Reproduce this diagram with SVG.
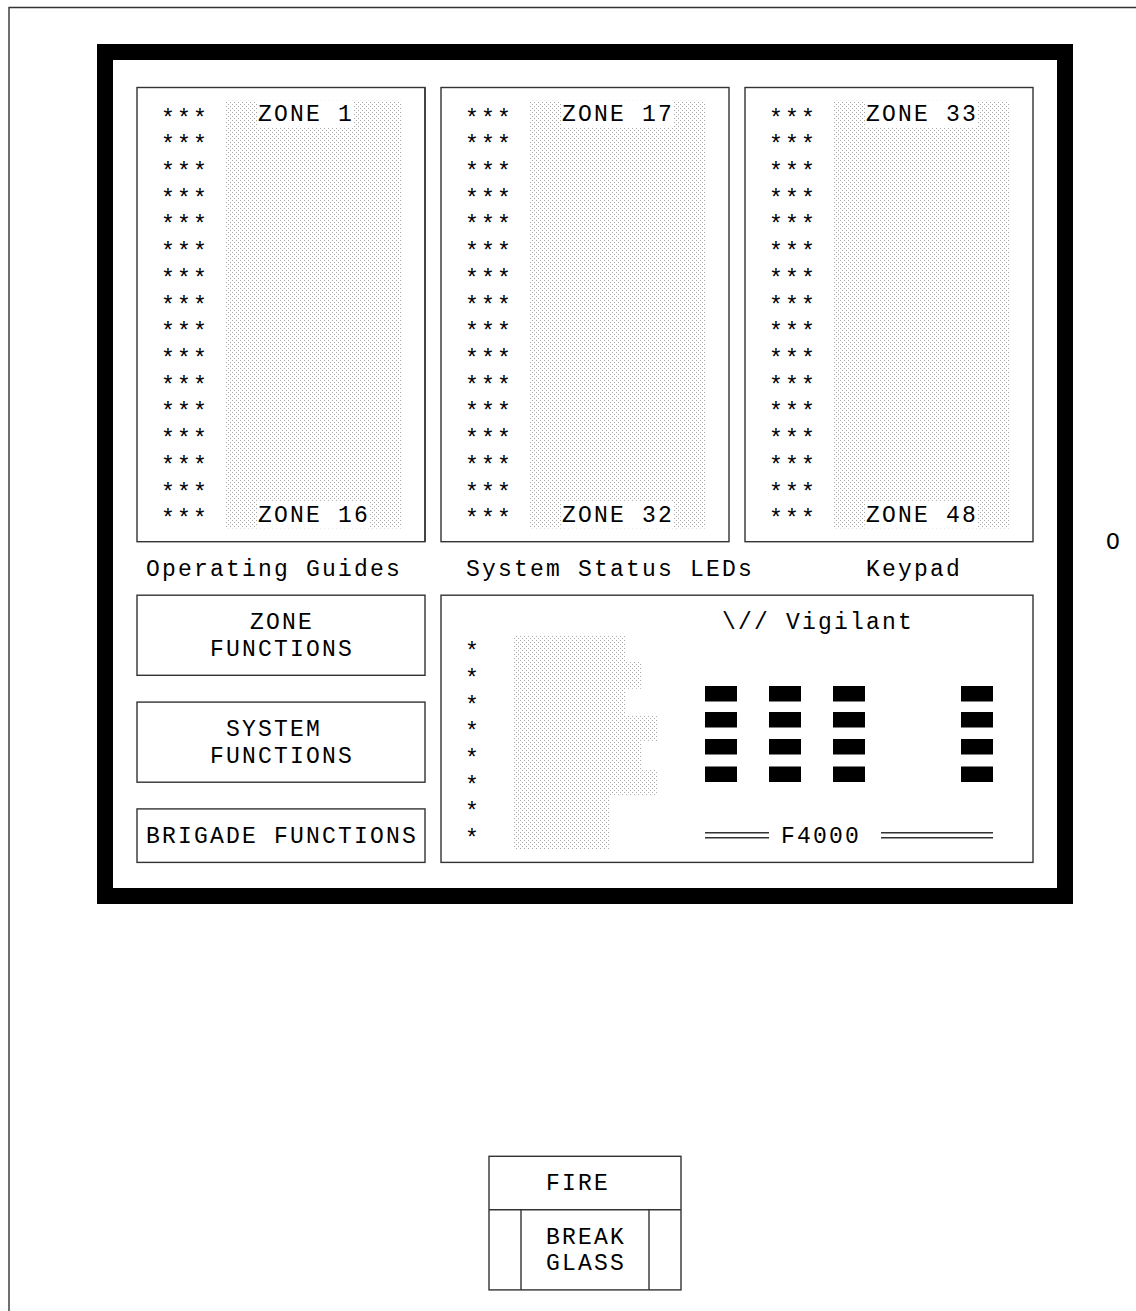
<svg xmlns="http://www.w3.org/2000/svg" width="1136" height="1311" viewBox="0 0 1136 1311">
<defs>
<pattern id="shade" width="4" height="4" patternUnits="userSpaceOnUse">
<rect x="0" y="0" width="1" height="1" fill="#aaa"/>
<rect x="2" y="2" width="1" height="1" fill="#aaa"/>
</pattern>
<style>
.ln{stroke:#333;stroke-width:1.4;fill:none}
.bx{stroke:#333;stroke-width:1.4;fill:none}
.t{font-family:"Liberation Mono","DejaVu Sans Mono",monospace;font-size:23px;letter-spacing:2.2px;fill:#000}
.m{text-anchor:middle}
.sh{fill:url(#shade)}
.wb{fill:#fff}
.blk{fill:#000}
</style>
</defs>
<rect width="1136" height="1311" fill="#fff"/>

<g id="outer-frame">
<path class="ln" d="M9,1311 V7.5 H1136"/>
</g>

<g id="panel-frame">
<path fill="#000" fill-rule="evenodd" d="M97,44 H1073 V904 H97 Z M113,60 V888 H1057 V60 Z"/>
</g>

<g id="indicator-o">
<text class="t" x="1114" y="549" text-anchor="middle">O</text>
</g>

<g id="zones-1-16">
<rect class="bx" x="137" y="87.5" width="288" height="454.2"/>
<rect class="sh" x="225" y="100.8" width="176" height="427.6"/>
<rect class="wb" x="257" y="101" width="96" height="26"/>
<rect class="wb" x="257" y="502" width="112" height="26.4"/>
<text class="t" x="258" y="121">ZONE 1</text>
<text class="t" x="258" y="521.8">ZONE 16</text>
<g class="t">
<text x="161" y="125.5">***</text><text x="161" y="152.2">***</text><text x="161" y="179">***</text><text x="161" y="205.7">***</text>
<text x="161" y="232.4">***</text><text x="161" y="259.1">***</text><text x="161" y="285.8">***</text><text x="161" y="312.6">***</text>
<text x="161" y="339.3">***</text><text x="161" y="366">***</text><text x="161" y="392.7">***</text><text x="161" y="419.4">***</text>
<text x="161" y="446.2">***</text><text x="161" y="472.9">***</text><text x="161" y="499.6">***</text><text x="161" y="526.3">***</text>
</g>
</g>

<g id="zones-17-32">
<path class="ln" d="M425,87.5 V541.7"/>
<rect class="bx" x="441" y="87.5" width="288" height="454.2"/>
<rect class="sh" x="529" y="100.8" width="176" height="427.6"/>
<rect class="wb" x="561" y="101" width="112" height="26"/>
<rect class="wb" x="561" y="502" width="112" height="26.4"/>
<text class="t" x="562" y="121">ZONE 17</text>
<text class="t" x="562" y="521.8">ZONE 32</text>
<g class="t">
<text x="465" y="125.5">***</text><text x="465" y="152.2">***</text><text x="465" y="179">***</text><text x="465" y="205.7">***</text>
<text x="465" y="232.4">***</text><text x="465" y="259.1">***</text><text x="465" y="285.8">***</text><text x="465" y="312.6">***</text>
<text x="465" y="339.3">***</text><text x="465" y="366">***</text><text x="465" y="392.7">***</text><text x="465" y="419.4">***</text>
<text x="465" y="446.2">***</text><text x="465" y="472.9">***</text><text x="465" y="499.6">***</text><text x="465" y="526.3">***</text>
</g>
</g>

<g id="zones-33-48">
<rect class="bx" x="745" y="87.5" width="288" height="454.2"/>
<rect class="sh" x="833" y="100.8" width="176" height="427.6"/>
<rect class="wb" x="865" y="101" width="112" height="26"/>
<rect class="wb" x="865" y="502" width="112" height="26.4"/>
<text class="t" x="866" y="121">ZONE 33</text>
<text class="t" x="866" y="521.8">ZONE 48</text>
<g class="t">
<text x="769" y="125.5">***</text><text x="769" y="152.2">***</text><text x="769" y="179">***</text><text x="769" y="205.7">***</text>
<text x="769" y="232.4">***</text><text x="769" y="259.1">***</text><text x="769" y="285.8">***</text><text x="769" y="312.6">***</text>
<text x="769" y="339.3">***</text><text x="769" y="366">***</text><text x="769" y="392.7">***</text><text x="769" y="419.4">***</text>
<text x="769" y="446.2">***</text><text x="769" y="472.9">***</text><text x="769" y="499.6">***</text><text x="769" y="526.3">***</text>
</g>
</g>

<g id="section-labels">
<text class="t" x="146" y="576">Operating Guides</text>
<text class="t" x="466" y="576">System Status LEDs</text>
<text class="t" x="866" y="576">Keypad</text>
</g>

<g id="zone-functions">
<rect class="bx" x="137" y="595.2" width="288" height="80.1"/>
<text class="t m" x="282" y="629">ZONE</text>
<text class="t m" x="282" y="655.7">FUNCTIONS</text>
</g>

<g id="system-functions">
<rect class="bx" x="137" y="702.1" width="288" height="80.1"/>
<text class="t m" x="274" y="735.9">SYSTEM</text>
<text class="t m" x="282" y="762.6">FUNCTIONS</text>
</g>

<g id="brigade-functions">
<rect class="bx" x="137" y="808.9" width="288" height="53.5"/>
<text class="t" x="146" y="842.8">BRIGADE FUNCTIONS</text>
</g>

<g id="status-keypad">
<rect class="bx" x="441" y="595.2" width="592" height="267.2"/>
<path class="sh" d="M513,635.3 H625 V662 H641 V688.7 H625 V715.4 H657 V742.1 H641 V768.9 H657 V795.6 H609 V849 H513 Z"/>
<g class="t">
<text x="465" y="659.1">*</text><text x="465" y="685.8">*</text><text x="465" y="712.6">*</text><text x="465" y="739.3">*</text>
<text x="465" y="766">*</text><text x="465" y="792.7">*</text><text x="465" y="819.4">*</text><text x="465" y="846.2">*</text>
</g>
<text class="t" x="722" y="629">\// Vigilant</text>
<g class="blk">
<rect x="705" y="686" width="32" height="15.5"/><rect x="769" y="686" width="32" height="15.5"/><rect x="833" y="686" width="32" height="15.5"/><rect x="961" y="686" width="32" height="15.5"/>
<rect x="705" y="712" width="32" height="15.5"/><rect x="769" y="712" width="32" height="15.5"/><rect x="833" y="712" width="32" height="15.5"/><rect x="961" y="712" width="32" height="15.5"/>
<rect x="705" y="739" width="32" height="15.5"/><rect x="769" y="739" width="32" height="15.5"/><rect x="833" y="739" width="32" height="15.5"/><rect x="961" y="739" width="32" height="15.5"/>
<rect x="705" y="766.5" width="32" height="15.5"/><rect x="769" y="766.5" width="32" height="15.5"/><rect x="833" y="766.5" width="32" height="15.5"/><rect x="961" y="766.5" width="32" height="15.5"/>
</g>
<path class="ln" d="M705,832.7 H769 M705,837.7 H769 M881,832.7 H993 M881,837.7 H993"/>
<text class="t m" x="821" y="842.8">F4000</text>
</g>

<g id="break-glass">
<rect class="bx" x="489" y="1156.3" width="192" height="133.6"/>
<path class="ln" d="M489,1209.7 H681 M521,1209.7 V1289.9 M649,1209.7 V1289.9"/>
<text class="t" x="546" y="1190">FIRE</text>
<text class="t" x="546" y="1243.5">BREAK</text>
<text class="t" x="546" y="1270.2">GLASS</text>
</g>

<g id="connectors"></g>
</svg>
